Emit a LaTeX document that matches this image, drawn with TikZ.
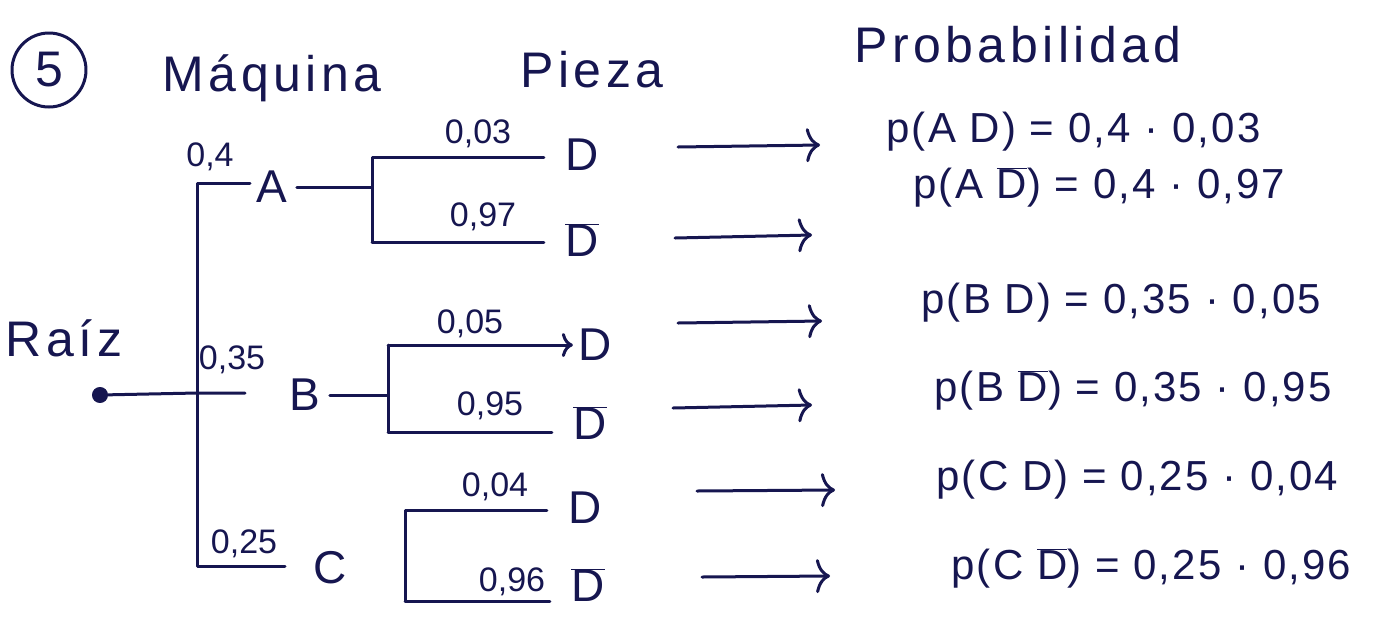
\documentclass[tikz,border=0pt]{standalone}
\usepackage{fontspec}
\setmainfont{Liberation Sans}
\newfontfamily\hand[LetterSpace=5]{Liberation Sans}
\newfontfamily\handw[LetterSpace=9]{Liberation Sans}
\usetikzlibrary{arrows.meta}
\definecolor{ink}{RGB}{22,22,80}
\newcommand{\Db}{$\overline{\hbox{D}}$}
\begin{document}
\begin{tikzpicture}[x=1pt,y=-1pt,color=ink,line width=3pt,line cap=round,line join=round,
  hdr/.style={font=\handw\fontsize{50}{54}\selectfont,inner sep=0pt},
  lbl/.style={font=\fontsize{46}{50}\selectfont,inner sep=8pt},
  leaf/.style={font=\fontsize{46}{50}\selectfont,inner xsep=20pt,inner ysep=2pt},
  num/.style={font=\fontsize{34}{38}\selectfont,inner sep=0pt},
  eq/.style={font=\hand\fontsize{42}{46}\selectfont,anchor=west,inner sep=0pt},
  res/.style={-{To[length=14pt,width=34pt]}},
  dotnode/.style={circle,fill,draw,minimum size=13pt,inner sep=0pt}]
\useasboundingbox[fill=white] (0,0) rectangle (1379,625);

% headers
\node[circle,draw,minimum size=74pt,inner sep=0pt,font=\fontsize{50}{54}\selectfont] (five) at (49,70) {5};
\node[hdr] (maq) at (272,78) {Máquina};
\node[hdr] (pieza) at (592,70) {Pieza};
\node[hdr] (probhdr) at (1018,45) {Probabilidad};
\node[hdr] (raiz) at (64,338) {Raíz};

% root and first level
\node[dotnode] (root) at (100,395) {};
\coordinate (jA) at (197,183);
\coordinate (jB) at (197,393);
\coordinate (jC) at (197,566);
\coordinate (eA) at (250,183);
\coordinate (eB) at (245,393);
\coordinate (eC) at (285,566);
\draw (root) -- (jB) -- (eB);
\draw (eA) -- (jA) -- (jC) -- (eC);
\node[num] (pA) at (210,157) {0,4};
\node[num] (pB) at (232,360) {0,35};
\node[num] (pC) at (244,544) {0,25};
\node[lbl] (A) at (272,187) {A};
\node[lbl] (B) at (305,395) {B};
\node[lbl] (C) at (330,568) {C};

% subtree A
\coordinate (sA) at (372,187);
\coordinate (sAt) at (372,157);
\coordinate (sAb) at (372,242);
\node[leaf] (AD) at (582,155) {D};
\node[leaf] (AN) at (582,240) {\Db};
\draw (A) -- (sA);
\draw (sAb) -- (sAt) -- (sAt -| AD.west);
\draw (sAb) -- (sAb -| AN.west);
\node[num] (pAD) at (478,134) {0,03};
\node[num] (pAN) at (483,217) {0,97};

% subtree B
\coordinate (sB) at (388,395);
\coordinate (sBt) at (388,345);
\coordinate (sBb) at (388,432);
\node[leaf,inner xsep=4pt] (BD) at (595,345) {D};
\node[leaf] (BN) at (590,423) {\Db};
\draw (B) -- (sB);
\draw (sBb) -- (sBt);
\draw[-{To[length=11pt,width=24pt]}] (sBt) -- (sBt -| BD.west);
\draw (sBb) -- (sBb -| BN.west);
\node[num] (pBD) at (470,324) {0,05};
\node[num] (pBN) at (490,406) {0,95};

% subtree C
\coordinate (sCt) at (405,510);
\coordinate (sCb) at (405,601);
\node[leaf] (CD) at (585,508) {D};
\node[leaf] (CN) at (588,585) {\Db};
\draw (sCb) -- (sCt) -- (sCt -| CD.west);
\draw (sCb) -- (sCb -| CN.west);
\node[num] (pCD) at (495,487) {0,04};
\node[num] (pCN) at (512,582) {0,96};

% result arrows
\coordinate (a1s) at (678,147); \coordinate (a1e) at (820,145);
\coordinate (a2s) at (675,238); \coordinate (a2e) at (812,235);
\coordinate (a3s) at (678,323); \coordinate (a3e) at (822,321);
\coordinate (a4s) at (673,408); \coordinate (a4e) at (812,405);
\coordinate (a5s) at (697,491); \coordinate (a5e) at (835,490);
\coordinate (a6s) at (702,577); \coordinate (a6e) at (830,576);
\foreach \i in {1,...,6} \draw[res] (a\i s) -- (a\i e);

% probabilities
\node[eq] (eqAD) at (885,132) {p(A D) = 0,4 · 0,03};
\node[eq] (eqAN) at (912,187) {p(A \Db) = 0,4 · 0,97};
\node[eq] (eqBD) at (920,303) {p(B D) = 0,35 · 0,05};
\node[eq] (eqBN) at (933,390) {p(B \Db) = 0,35 · 0,95};
\node[eq] (eqCD) at (935,480) {p(C D) = 0,25 · 0,04};
\node[eq] (eqCN) at (950,568) {p(C \Db) = 0,25 · 0,96};
\end{tikzpicture}
\end{document}
